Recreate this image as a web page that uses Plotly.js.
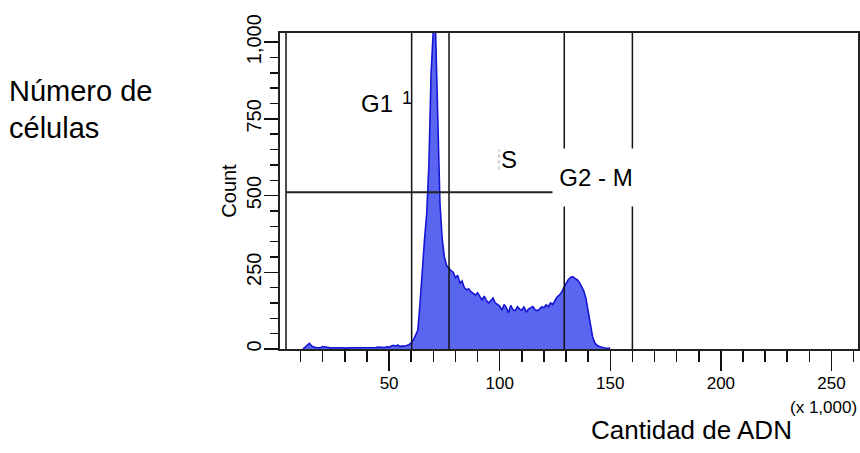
<!DOCTYPE html>
<html>
<head>
<meta charset="utf-8">
<script src="https://cdn.plot.ly/plotly-3.0.1.min.js"></script>
<style>html,body{margin:0;padding:0;background:#fff;}#chart{width:860px;height:453px;}</style>
</head>
<body>
<div id="chart"></div>
<script>
// DNA content (x 1,000) per histogram bin
const dnaBins = [11,12,13,14,15,16,17,18,19,20,21,22,23,24,25,26,27,28,29,30,31,32,33,34,35,36,37,38,39,40,41,42,43,44,45,46,47,48,49,50,51,52,53,54,55,56,57,58,59,60,61,62,63,64,65,66,67,68,69,70,71,72,73,74,75,76,77,78,79,80,81,82,83,84,85,86,87,88,89,90,91,92,93,94,95,96,97,98,99,100,101,102,103,104,105,106,107,108,109,110,111,112,113,114,115,116,117,118,119,120,121,122,123,124,125,126,127,128,129,130,131,132,133,134,135,136,137,138,139,140,141,142,143,144,145,146,147,148,149,150];
// Cell counts per bin
const cellCounts = [0,6,14,18,10,6,5,5,4,8,7,4,4,3,4,3,4,4,3,4,3,4,4,3,4,5,4,4,5,4,5,4,5,5,6,5,6,5,7,6,10,12,9,13,8,10,9,12,14,20,30,45,62,150,265,355,440,600,900,1040,1040,715,476,360,300,272,262,255,250,232,240,215,222,200,193,196,187,182,176,183,170,160,172,158,150,160,166,150,145,140,127,145,135,118,142,128,125,138,130,127,138,120,130,134,138,128,125,130,137,135,144,138,150,145,160,170,176,185,200,216,226,233,236,230,226,218,205,190,165,120,80,40,20,12,8,5,4,3,3,2];
// Gate boundaries (x 1,000)
const gateX = [3.4, 60.2, 77.1, 129.2, 160.0];
const markerY = 511;
const markerXEnd = 124.7;
// Labels
const phaseLabels = ['G1', '1', 'S', 'G2 - M'];
const phaseX = [44.5, 58.2, 104.4, 143.6];
const phaseY = [800, 818, 618, 560];
const yTicks = [0, 250, 500, 750, 1000];
const yTickText = ['0', '250', '500', '750', '1,000'];
const xTicks = [50, 100, 150, 200, 250];
const xTickText = ['50', '100', '150', '200', '250'];

const narrow = 'Liberation Sans Narrow, Arial Narrow, Liberation Sans, Arial, sans-serif';
const sans = 'Liberation Sans, Arial, sans-serif';

const trace = {
  x: dnaBins, y: cellCounts, type: 'scatter', mode: 'lines',
  fill: 'tozeroy', fillcolor: '#5b66f0',
  line: {color: '#1515d6', width: 1.6},
  hoverinfo: 'skip', showlegend: false
};

const shapes = gateX.map(g => ({
  type: 'line', xref: 'x', yref: 'y', x0: g, x1: g, y0: 0, y1: 1030,
  line: {color: '#111', width: 1.5}, layer: 'above'
}));
shapes.push({type: 'line', xref: 'x', yref: 'y', x0: gateX[0], x1: markerXEnd, y0: markerY, y1: markerY,
  line: {color: '#222', width: 2}, layer: 'above'});
// small leftover mark next to "S"
shapes.push({type: 'line', xref: 'x', yref: 'y', x0: 99.7, x1: 99.7, y0: 585, y1: 650,
  line: {color: '#999', width: 1, dash: 'dot'}, layer: 'above'});

const W = 860, H = 453, L = 280, R = 2, T = 33, B = 104;
const pw = W - L - R, ph = H - T - B;
function px2paperX(px) { return (px - L) / pw; }
function px2paperY(py) { return (H - B - py) / ph; }

const annotations = [
  {x: phaseX[0], y: phaseY[0], xref: 'x', yref: 'y', text: phaseLabels[0], showarrow: false, xanchor: 'center', font: {family: sans, size: 24, color: '#000'}},
  {x: phaseX[1], y: phaseY[1], xref: 'x', yref: 'y', text: phaseLabels[1], showarrow: false, xanchor: 'center', font: {family: sans, size: 18, color: '#000'}},
  {x: phaseX[2], y: phaseY[2], xref: 'x', yref: 'y', text: phaseLabels[2], showarrow: false, xanchor: 'center', font: {family: sans, size: 24, color: '#000'}},
  {x: phaseX[3], y: phaseY[3], xref: 'x', yref: 'y', text: phaseLabels[3], showarrow: false, xanchor: 'center', yanchor: 'middle',
   bgcolor: '#fff', width: 86, height: 57, borderpad: 0, valign: 'middle',
   font: {family: sans, size: 24, color: '#000'}},
  {x: px2paperX(7), y: px2paperY(91), xref: 'paper', yref: 'paper', text: 'Número de', showarrow: false,
   xanchor: 'left', yanchor: 'middle', font: {family: sans, size: 29, color: '#000'}},
  {x: px2paperX(7), y: px2paperY(128), xref: 'paper', yref: 'paper', text: 'células', showarrow: false,
   xanchor: 'left', yanchor: 'middle', font: {family: sans, size: 29, color: '#000'}},
  {x: px2paperX(823), y: px2paperY(407), xref: 'paper', yref: 'paper', text: '(x 1,000)', showarrow: false,
   xanchor: 'center', yanchor: 'middle', font: {family: narrow, size: 17, color: '#000'}},
  {x: px2paperX(691), y: px2paperY(430), xref: 'paper', yref: 'paper', text: 'Cantidad de ADN', showarrow: false,
   xanchor: 'center', yanchor: 'middle', font: {family: sans, size: 26, color: '#000'}}
];

const layout = {
  width: W, height: H,
  margin: {l: L, r: R, t: T, b: B},
  paper_bgcolor: '#fff', plot_bgcolor: '#fff',
  showlegend: false,
  xaxis: {
    range: [0.68, 262], tickmode: 'array', tickvals: xTicks, ticktext: xTickText,
    ticks: 'outside', ticklen: 20, tickwidth: 1.5, tickcolor: '#111',
    minor: {tickmode: 'linear', tick0: 0, dtick: 10, ticks: 'outside', ticklen: 11, tickwidth: 1.5, tickcolor: '#111', showgrid: false},
    showgrid: false, zeroline: false, showline: true, mirror: true, linecolor: '#222', linewidth: 2,
    tickfont: {family: narrow, size: 17, color: '#000'}, ticklabelstandoff: -2
  },
  yaxis: {
    range: [0, 1030], tickmode: 'array', tickvals: yTicks, ticktext: yTickText, tickangle: -90,
    ticks: 'outside', ticklen: 14, tickwidth: 1.5, tickcolor: '#111',
    minor: {tickmode: 'linear', tick0: 0, dtick: 50, ticks: 'outside', ticklen: 8, tickwidth: 1.5, tickcolor: '#111', showgrid: false},
    showgrid: false, zeroline: false, showline: true, mirror: true, linecolor: '#222', linewidth: 2,
    tickfont: {family: narrow, size: 20, color: '#000'}, ticklabelstandoff: -5,
    title: {text: 'Count', font: {family: sans, size: 20, color: '#000'}, standoff: 1}
  },
  shapes: shapes,
  annotations: annotations
};

Plotly.newPlot('chart', [trace], layout, {staticPlot: true, displayModeBar: false});
</script>
</body>
</html>
